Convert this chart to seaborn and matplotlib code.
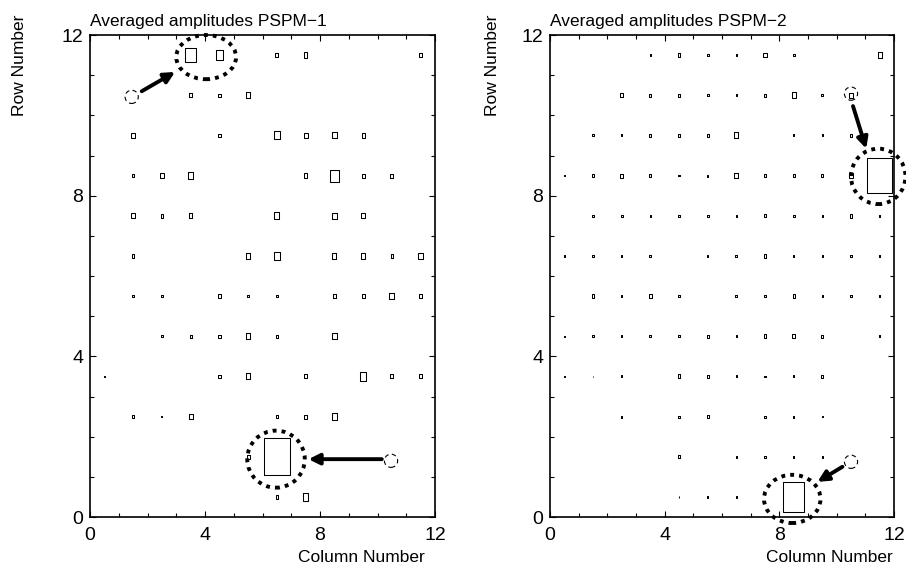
import numpy as np
import pandas as pd
import matplotlib
matplotlib.use("Agg")
import matplotlib.pyplot as plt
import seaborn as sns
from matplotlib.path import Path
from matplotlib.patches import Ellipse

# ---------------- data: PSPM-1 (column centre, row centre, box size) ----------------
p1_col = [3.5, 4.5, 6.5, 7.5, 11.5,
          3.5, 4.5, 5.5,
          1.5, 4.5, 6.5, 7.5, 8.5, 9.5,
          1.5, 2.5, 3.5, 7.5, 8.5, 9.5, 10.5,
          1.5, 2.5, 3.5, 6.5, 8.5, 9.5,
          1.5, 5.5, 6.5, 8.5, 9.5, 10.5, 11.5,
          1.5, 2.5, 4.5, 5.5, 6.5, 8.5, 9.5, 10.5, 11.5,
          2.5, 3.5, 4.5, 5.5, 6.5, 8.5,
          0.5, 4.5, 5.5, 7.5, 9.5, 10.5, 11.5,
          1.5, 2.5, 3.5, 6.5, 7.5, 8.5,
          5.5, 6.5,
          6.5, 7.5]
p1_row = [11.5] * 5 + [10.5] * 3 + [9.5] * 6 + [8.5] * 7 + [7.5] * 6 + [6.5] * 7 + \
         [5.5] * 9 + [4.5] * 6 + [3.5] * 7 + [2.5] * 6 + [1.5] * 2 + [0.5] * 2
p1_amp = [0.36, 0.26, 0.10, 0.13, 0.09,
          0.10, 0.08, 0.15,
          0.13, 0.08, 0.20, 0.14, 0.15, 0.11,
          0.08, 0.14, 0.18, 0.13, 0.30, 0.10, 0.10,
          0.12, 0.09, 0.12, 0.18, 0.16, 0.13,
          0.09, 0.14, 0.21, 0.14, 0.16, 0.09, 0.16,
          0.07, 0.07, 0.08, 0.07, 0.07, 0.09, 0.10, 0.17, 0.11,
          0.05, 0.07, 0.08, 0.15, 0.08, 0.15,
          0.04, 0.08, 0.15, 0.10, 0.22, 0.10, 0.10,
          0.09, 0.04, 0.14, 0.08, 0.10, 0.17,
          0.11, 0.91,
          0.08, 0.19]

# ---------------- data: PSPM-2 ----------------
p2_col = [3.5, 4.5, 5.5, 6.5, 7.5, 8.5, 11.5,
          2.5, 3.5, 4.5, 5.5, 6.5, 7.5, 8.5, 9.5, 10.5,
          1.5, 2.5, 3.5, 4.5, 5.5, 6.5, 8.5, 9.5, 10.5,
          0.5, 1.5, 2.5, 3.5, 4.5, 5.5, 6.5, 7.5, 8.5, 9.5, 10.5, 11.5,
          1.5, 2.5, 3.5, 4.5, 5.5, 6.5, 7.5, 8.5, 9.5, 10.5, 11.5,
          0.5, 1.5, 2.5, 3.5, 5.5, 6.5, 7.5, 8.5, 9.5, 10.5, 11.5,
          1.5, 2.5, 3.5, 4.5, 6.5, 7.5, 8.5, 9.5, 10.5, 11.5,
          0.5, 1.5, 2.5, 3.5, 4.5, 5.5, 6.5, 7.5, 8.5, 9.5, 11.5,
          0.5, 1.5, 2.5, 4.5, 5.5, 6.5, 7.5, 8.5, 9.5,
          2.5, 4.5, 5.5, 7.5, 8.5, 9.5,
          4.5, 6.5, 7.5, 8.5, 9.5,
          4.5, 5.5, 6.5, 8.5]
p2_row = [11.5] * 7 + [10.5] * 9 + [9.5] * 9 + [8.5] * 12 + [7.5] * 11 + [6.5] * 11 + \
         [5.5] * 10 + [4.5] * 11 + [3.5] * 9 + [2.5] * 6 + [1.5] * 5 + [0.5] * 4
p2_amp = [0.04, 0.10, 0.07, 0.04, 0.12, 0.06, 0.15,
          0.10, 0.07, 0.08, 0.06, 0.05, 0.08, 0.14, 0.06, 0.13,
          0.05, 0.05, 0.06, 0.07, 0.07, 0.15, 0.05, 0.05, 0.08,
          0.04, 0.06, 0.10, 0.08, 0.04, 0.05, 0.13, 0.06, 0.07, 0.06, 0.12, 0.89,
          0.06, 0.06, 0.05, 0.05, 0.06, 0.05, 0.08, 0.06, 0.05, 0.10, 0.04,
          0.03, 0.05, 0.05, 0.07, 0.05, 0.07, 0.09, 0.05, 0.05, 0.07, 0.04,
          0.10, 0.05, 0.10, 0.05, 0.07, 0.07, 0.08, 0.04, 0.06, 0.04,
          0.03, 0.05, 0.05, 0.06, 0.06, 0.07, 0.05, 0.09, 0.10, 0.07, 0.04,
          0.03, 0.03, 0.05, 0.10, 0.07, 0.05, 0.04, 0.05, 0.07,
          0.05, 0.05, 0.08, 0.05, 0.05, 0.04,
          0.08, 0.04, 0.05, 0.05, 0.04,
          0.03, 0.05, 0.05, 0.73]

titles = ["Averaged amplitudes PSPM\u22121", "Averaged amplitudes PSPM\u22122"]
ticks_major = [0, 4, 8, 12]
tick_labels = ["0", "4", "8", "12"]

# annotation overlays (dotted circles, dashed circles, arrows), data coords
p1_big_circles = [(4.04, 11.45, 2.08, 1.10), (6.47, 1.44, 2.00, 1.42)]
p1_small_circles = [(1.45, 10.46), (10.47, 1.40)]
p1_arrows = [((1.80, 10.60), (2.96, 11.08)), ((10.15, 1.44), (7.60, 1.44))]
p2_big_circles = [(11.45, 8.48, 1.90, 1.38), (8.45, 0.45, 1.97, 1.20)]
p2_small_circles = [(10.50, 10.54), (10.50, 1.375)]
p2_arrows = [((10.57, 10.23), (11.03, 9.17)), ((10.20, 1.25), (9.33, 0.875))]

# ---------------- figure ----------------
sns.set_theme(style="ticks")
plt.rcParams['font.family'] = ['Liberation Sans', 'DejaVu Sans']
plt.rcParams['text.color'] = 'black'
plt.rcParams['axes.labelcolor'] = 'black'

W, H = 906, 570
fig = plt.figure(figsize=(W / 100, H / 100), dpi=100)
ax1 = fig.add_axes([90 / W, 53 / H, 345 / W, 482 / H])
ax2 = fig.add_axes([550 / W, 53 / H, 344 / W, 482 / H])

px_per_unit_y = 482 / 12.0
px_per_unit_x = 345 / 12.0
aspect = px_per_unit_x / px_per_unit_y
box = Path([(-aspect / 2, -0.5), (aspect / 2, -0.5), (aspect / 2, 0.5),
            (-aspect / 2, 0.5), (-aspect / 2, -0.5)],
           [Path.MOVETO, Path.LINETO, Path.LINETO, Path.LINETO, Path.CLOSEPOLY])


def panel(ax, cols, rows, amps, title, big, small, arrows, ylab_x, xlab_x):
    df = pd.DataFrame({"col": cols, "row": rows, "amp": amps})
    area = (np.asarray(amps) * px_per_unit_y * 0.72) ** 2
    sns.scatterplot(data=df, x="col", y="row", marker=box, s=area,
                    facecolors="none", edgecolor="black", linewidth=0.75,
                    legend=False, ax=ax, clip_on=False)
    ax.set_xlim(0, 12)
    ax.set_ylim(0, 12)
    ax.set_xticks(ticks_major, tick_labels)
    ax.set_yticks(ticks_major, tick_labels)
    ax.set_xticks(np.arange(0, 13, 1), minor=True)
    ax.set_yticks(np.arange(0, 13, 1), minor=True)
    ax.tick_params(which="both", direction="in", top=True, right=True,
                   color="black", width=0.8, labelsize=14, labelcolor="black")
    ax.tick_params(which="major", length=4.5)
    ax.tick_params(which="minor", length=3)
    ax.tick_params(axis="x", pad=7)
    ax.tick_params(axis="y", pad=5)
    for sp in ax.spines.values():
        sp.set_visible(True)
        sp.set_color("black")
        sp.set_linewidth(1.2)
    ax.set_xlabel("Column Number", fontsize=12.5)
    ax.set_ylabel("Row Number", fontsize=12.5)
    ax.yaxis.label.set(ha="center", va="center")
    ax.yaxis.set_label_coords(ylab_x, 0.938)
    ax.xaxis.label.set(ha="right", va="center")
    ax.xaxis.set_label_coords(xlab_x, -0.083)
    ax.text(0.0, 1.019, title, transform=ax.transAxes, ha="left",
            va="baseline", fontsize=12.5)
    for (cx, cy, w, h) in big:
        ax.add_patch(Ellipse((cx, cy), w, h, fill=False, ec="black", lw=2.8,
                             ls=(0, (1, 1.3)), clip_on=False))
    for (cx, cy) in small:
        ax.add_patch(Ellipse((cx, cy), 0.46, 0.33, fill=False, ec="black",
                             lw=0.8, ls=(0, (4, 3)), clip_on=False))
    for (start, tip) in arrows:
        ax.annotate("", xy=tip, xytext=start,
                    arrowprops=dict(arrowstyle="-|>", lw=2.8, color="black",
                                    shrinkA=0, shrinkB=0, mutation_scale=16))


panel(ax1, p1_col, p1_row, p1_amp, titles[0], p1_big_circles, p1_small_circles,
      p1_arrows, -0.203, 0.971)
panel(ax2, p2_col, p2_row, p2_amp, titles[1], p2_big_circles, p2_small_circles,
      p2_arrows, -0.166, 0.997)

fig.savefig("out.png", dpi=100)
